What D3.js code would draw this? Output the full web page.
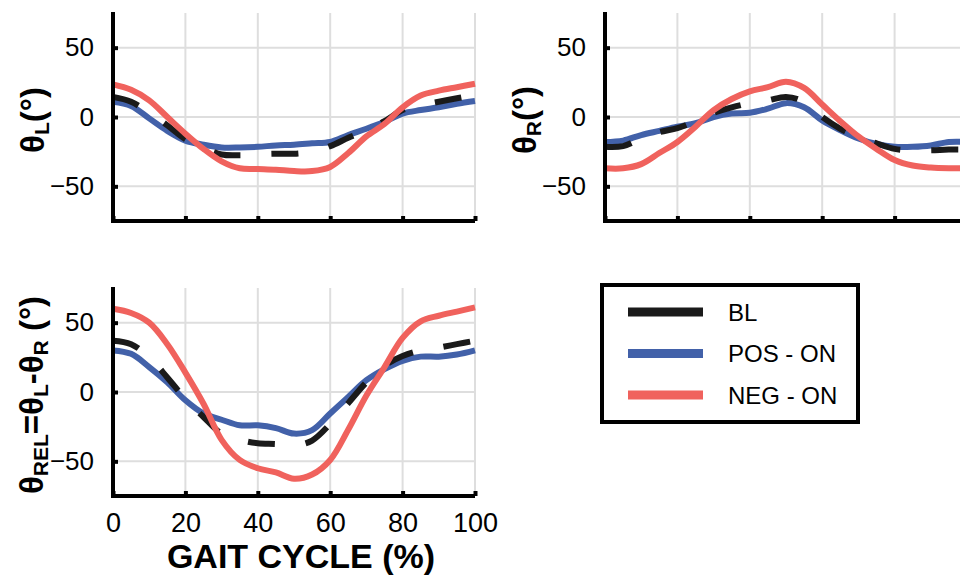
<!DOCTYPE html>
<html>
<head>
<meta charset="utf-8">
<script src="https://cdn.jsdelivr.net/npm/d3@7"></script>
<style>
  body { margin: 0; background: #fff; }
  svg { display: block; font-family: "Liberation Sans", Arial, sans-serif; }
</style>
</head>
<body>
<svg id="chart" width="960" height="575"></svg>
<script>
// gait cycle sample points (%)
const gaitPct = [0, 5, 10, 15, 20, 25, 30, 35, 40, 45, 50, 55, 60, 65, 70, 75, 80, 85, 90, 95, 100];
const xTicks = [0, 20, 40, 60, 80, 100];
const yTicks = [-50, 0, 50];

// left hip angle (deg)
const thetaL_BL  = [14.5, 11, 3, -6, -16, -22, -27, -27.5, -27, -26.5, -26.5, -25, -21, -15, -9.5, -3, 5, 8.5, 11, 13.5, 16];
const thetaL_POS = [11, 8, -1, -10, -17, -20, -22, -22, -21.5, -20.5, -20, -19, -18, -13, -8.5, -3.5, 2.5, 5, 7, 9.5, 11.5];
const thetaL_NEG = [23.5, 19.6, 12, 0, -12, -23, -32, -37, -37.5, -38, -39, -39, -36, -26, -14, -5, 7, 15.5, 19, 21.5, 24];

// right hip angle (deg)
const thetaR_BL  = [-21.5, -21, -15.5, -11, -8, -3, 3, 7, 10, 12, 14.5, 11, 0, -8.5, -14.5, -19, -23, -24, -24, -23.5, -23.5];
const thetaR_POS = [-18, -17, -13, -10, -7, -4.5, 0, 2.5, 3, 6, 10, 7, -2.5, -9.5, -15.5, -19.5, -21.5, -21.5, -20.5, -18, -18];
const thetaR_NEG = [-37, -37, -34, -26, -18, -7, 5, 13, 18.5, 21.5, 25.5, 21, 9, -3, -14, -23, -31, -35, -36.5, -37, -37];

// relative angle (deg)
const thetaRel_BL  = [37, 34.5, 25, 10.5, -5, -18, -30, -34.5, -37, -37.5, -38.5, -35, -23, -8, 7, 19, 26, 30, 32, 34.5, 37];
const thetaRel_POS = [30, 27.5, 18, 7, -6, -15.5, -20, -24, -24, -26, -30, -27.5, -15.5, -3.5, 8.5, 16.5, 22.5, 25.5, 25.5, 27, 30];
const thetaRel_NEG = [60, 57, 50, 34.5, 14, -8.5, -34.5, -49, -55, -58, -62.5, -59.5, -49, -27, -2.5, 18, 39, 51, 55, 58, 61];

const seriesNames = ["BL", "POS - ON", "NEG - ON"];
const seriesColors = ["#1a1a1a", "#4261a9", "#f0625d"];

const svg = d3.select("#chart");

const panels = [
  { left: 113, top: 13, data: [thetaL_BL, thetaL_POS, thetaL_NEG], label: [["θ", ""], ["L", "sub"], ["(°)", ""]], labelX: 44 },
  { left: 605, top: 13, data: [thetaR_BL, thetaR_POS, thetaR_NEG], label: [["θ", ""], ["R", "sub"], ["(°)", ""]], labelX: 536 },
  { left: 113, top: 288, data: [thetaRel_BL, thetaRel_POS, thetaRel_NEG],
    label: [["θ", ""], ["REL", "sub"], ["=θ", ""], ["L", "sub"], ["-θ", ""], ["R", "sub"], [" (°)", ""]], labelX: 43, xLabels: true }
];

const pw = 362, ph = 208;

panels.forEach(p => {
  const x = d3.scaleLinear().domain([0, 100]).range([p.left, p.left + pw]);
  const y = d3.scaleLinear().domain([-75, 75]).range([p.top + ph, p.top]);
  const g = svg.append("g");

  // gridlines
  g.append("g").selectAll("line").data(xTicks.slice(1)).join("line")
    .attr("x1", d => x(d)).attr("x2", d => x(d))
    .attr("y1", p.top).attr("y2", p.top + ph)
    .attr("stroke", "#dedede").attr("stroke-width", 2);
  g.append("g").selectAll("line").data(yTicks).join("line")
    .attr("x1", p.left).attr("x2", p.left + pw)
    .attr("y1", d => y(d)).attr("y2", d => y(d))
    .attr("stroke", "#dedede").attr("stroke-width", 2);

  // lines: blue first, then BL, then red on top
  const line = d3.line()
    .x((d, i) => x(gaitPct[i]))
    .y(d => y(d))
    .curve(d3.curveCatmullRom.alpha(0.5));
  [1, 0, 2].forEach(k => {
    g.append("path")
      .attr("d", line(p.data[k]))
      .attr("fill", "none")
      .attr("stroke", seriesColors[k])
      .attr("stroke-width", 6)
      .attr("stroke-dasharray", k === 0 ? "27,31" : null)
      .attr("stroke-linejoin", "round");
  });

  // axes
  const xAxis = d3.axisBottom(x).tickValues(xTicks).tickSizeInner(-5).tickSizeOuter(0)
    .tickFormat(p.xLabels ? d3.format("d") : "");
  const ax = g.append("g").attr("transform", `translate(0,${p.top + ph})`).call(xAxis);
  ax.select(".domain").attr("stroke", "#000").attr("stroke-width", 4).attr("d", `M${p.left - 2},0H${p.left + pw}`);
  ax.selectAll(".tick line").attr("stroke", "#000").attr("stroke-width", 4);
  ax.selectAll(".tick text").attr("font-size", 27).attr("fill", "#000").attr("y", 17).attr("dy", "0.71em")
    .attr("font-family", "Liberation Sans, Arial, sans-serif");

  const yAxis = d3.axisLeft(y).tickValues(yTicks).tickSizeInner(-5).tickSizeOuter(0);
  const ay = g.append("g").attr("transform", `translate(${p.left},0)`).call(yAxis);
  ay.select(".domain").attr("stroke", "#000").attr("stroke-width", 4).attr("d", `M0,${p.top - 1}V${p.top + ph + 2}`);
  ay.selectAll(".tick line").attr("stroke", "#000").attr("stroke-width", 4);
  ay.selectAll(".tick text").attr("font-size", 26).attr("fill", "#000").attr("x", -19)
    .attr("font-family", "Liberation Sans, Arial, sans-serif");

  // y label
  const t = svg.append("text")
    .attr("transform", `translate(${p.labelX},${p.top + ph / 2 + 3}) rotate(-90)`)
    .attr("text-anchor", "middle")
    .attr("font-weight", "bold")
    .attr("font-size", 33)
    .attr("fill", "#000");
  let shifted = false;
  p.label.forEach(([txt, kind]) => {
    const ts = t.append("tspan").text(txt);
    if (kind === "sub") {
      ts.attr("font-size", 21).attr("dy", shifted ? 0 : 5);
      shifted = true;
    } else {
      ts.attr("dy", shifted ? -5 : 0);
      shifted = false;
    }
  });
});

// x axis title
svg.append("text")
  .attr("x", 301).attr("y", 568)
  .attr("text-anchor", "middle")
  .attr("font-weight", "bold")
  .attr("font-size", 34)
  .text("GAIT CYCLE (%)");

// legend
const legend = svg.append("g");
legend.append("rect")
  .attr("x", 602).attr("y", 285).attr("width", 256).attr("height", 137)
  .attr("fill", "#fff").attr("stroke", "#000").attr("stroke-width", 4);
const ly = d3.scalePoint().domain(seriesNames).range([312, 395]);
legend.selectAll("line.key").data(seriesNames).join("line")
  .attr("x1", 628).attr("x2", 703)
  .attr("y1", d => ly(d)).attr("y2", d => ly(d))
  .attr("stroke", (d, i) => seriesColors[i])
  .attr("stroke-width", 9);
legend.selectAll("text").data(seriesNames).join("text")
  .attr("x", 728).attr("y", d => ly(d))
  .attr("dy", "0.36em")
  .attr("font-size", 24)
  .text(d => d);
</script>
</body>
</html>
